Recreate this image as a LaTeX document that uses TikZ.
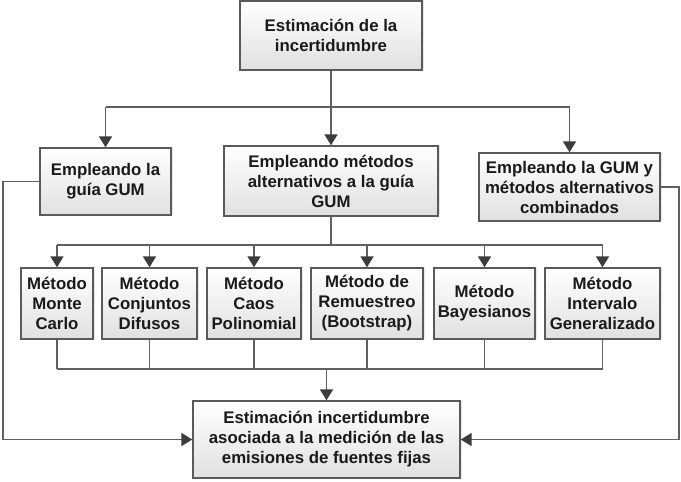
\documentclass[tikz,border=0pt]{standalone}
\usepackage{fontspec}
\setmainfont{Liberation Sans}
\usetikzlibrary{arrows.meta,shadows}
\definecolor{boxline}{HTML}{5A5A5A}
\definecolor{conn}{HTML}{606060}
\definecolor{tipc}{HTML}{3C3C3C}
\definecolor{txt}{HTML}{1A1A1A}
\tikzset{
  box/.style={draw=boxline, line width=1.4pt, rectangle, inner sep=0pt,
    top color=white, bottom color=black!12,
    drop shadow={opacity=0.18, shadow xshift=1.5pt, shadow yshift=1.5pt},
    align=center, text=txt,
    font=\fontsize{16.8}{20}\selectfont\bfseries},
  conline/.style={draw=conn, line width=1.8pt},
  arr/.style={conline, -{Triangle[length=11pt,width=13pt,fill=tipc,color=tipc]}},
}
\begin{document}
\begin{tikzpicture}[x=1pt,y=-1pt]
\useasboundingbox (0,0) rectangle (681,482);
% nodes
\node[box, minimum width=182pt, minimum height=69pt] (top) at (331,35.5) {Estimación de la\\incertidumbre};
\node[box, minimum width=131pt, minimum height=67pt] (left) at (105.5,181.5) {Empleando la\\guía GUM};
\node[box, minimum width=214pt, minimum height=70pt] (mid) at (331,181) {Empleando métodos\\alternativos a la guía\\GUM};
\node[box, minimum width=181pt, minimum height=68pt] (right) at (569.5,187) {Empleando la GUM y\\métodos alternativos\\combinados};
\node[box, minimum width=72pt, minimum height=71pt] (m1) at (57,303.5) {Método\\Monte\\Carlo};
\node[box, minimum width=95pt, minimum height=71pt] (m2) at (149.5,303.5) {Método\\Conjuntos\\Difusos};
\node[box, minimum width=94pt, minimum height=71pt] (m3) at (254,303.5) {Método\\Caos\\Polinomial};
\node[box, minimum width=112pt, minimum height=71pt] (m4) at (367,303.5) {Método de\\Remuestreo\\(Bootstrap)};
\node[box, minimum width=101pt, minimum height=71pt] (m5) at (484.5,303.5) {Método\\Bayesianos};
\node[box, minimum width=115pt, minimum height=71pt] (m6) at (602.5,303.5) {Método\\Intervalo\\Generalizado};
\node[box, minimum width=267pt, minimum height=77pt] (bot) at (326.5,439.5) {Estimación incertidumbre\\asociada a la medición de las\\emisiones de fuentes fijas};
% junctions
\coordinate (j1) at (331,107);
\coordinate (j2) at (331,245);
\coordinate (j3) at (326.5,369);
\coordinate (cl) at (3,0);
\coordinate (cr) at (679,0);
% top level connectors
\draw[conline] (top.south) -- (j1);
\draw[conline] (left.north |- j1) -- (right.north |- j1);
\draw[arr] (j1) -- (mid.north);
\draw[arr] (left.north |- j1) -- (left.north);
\draw[arr] (right.north |- j1) -- (right.north);
% methods
\draw[conline] (mid.south) -- (j2);
\draw[conline] (m1.north |- j2) -- (m6.north |- j2);
\foreach \m in {m1,m2,m3,m4,m5,m6}{
  \draw[arr] (\m.north |- j2) -- (\m.north);
  \draw[conline] (\m.south) -- (\m.south |- j3);
}
\draw[conline] (m1.south |- j3) -- (m6.south |- j3);
\draw[arr] (j3) -- (bot.north);
% side connectors
\draw[arr] (left.west) -| (cl |- bot.west) -- (bot.west);
\draw[arr] (right.east) -| (cr |- bot.east) -- (bot.east);
\end{tikzpicture}
\end{document}
